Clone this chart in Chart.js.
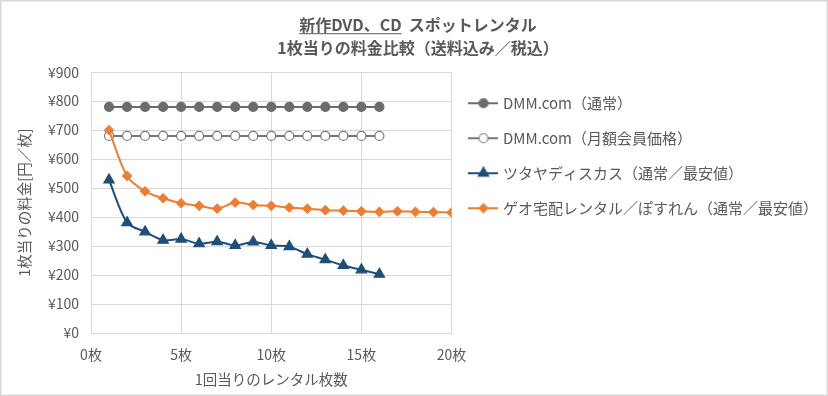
<!DOCTYPE html>
<html lang="ja">
<head>
<meta charset="utf-8">
<title>新作DVD、CD スポットレンタル</title>
<script src="https://cdn.jsdelivr.net/npm/chart.js@4.4.1/dist/chart.umd.min.js"></script>
<style>
  html, body { margin: 0; padding: 0; background: #fff; }
  canvas { display: block; }
</style>
</head>
<body>
<canvas id="chart" width="828" height="396"></canvas>
<script>
const FONT = "'Noto Sans CJK JP', 'Noto Sans', sans-serif"
Chart.defaults.font.family = FONT
Chart.defaults.color = '#595959'

// data
const counts = [1, 2, 3, 4, 5, 6, 7, 8, 9, 10, 11, 12, 13, 14, 15, 16, 17, 18, 19, 20]
const seriesNames = [
  'DMM.com（通常）',
  'DMM.com（月額会員価格）',
  'ツタヤディスカス（通常／最安値）',
  'ゲオ宅配レンタル／ぽすれん（通常／最安値）'
]
const dmmNormal = [780, 780, 780, 780, 780, 780, 780, 780, 780, 780, 780, 780, 780, 780, 780, 780]
const dmmMember = [680, 680, 680, 680, 680, 680, 680, 680, 680, 680, 680, 680, 680, 680, 680, 680]
const tsutaya = [528, 381, 349, 320, 324, 308, 315, 302, 314, 302, 298, 272, 253, 233, 218, 203]
const geo = [700, 542, 489, 465, 448, 439, 429, 450, 442, 439, 433, 429, 424, 422, 420, 418, 420, 418, 417, 416]
const yTicks = [0, 100, 200, 300, 400, 500, 600, 700, 800, 900]
const xTicks = [0, 5, 10, 15, 20]

const toPoints = (values) => values.map((v, i) => ({ x: counts[i], y: v }))

const styles = [
  { color: '#6f6b6b', fill: '#6f6b6b', pointStyle: 'circle', radius: 4.5, tension: 0 },
  { color: '#7a7676', fill: '#ffffff', pointStyle: 'circle', radius: 4.5, tension: 0 },
  { color: '#1f4e79', fill: '#1f4e79', pointStyle: 'triangle', radius: 6, tension: 0.3 },
  { color: '#ed7d31', fill: '#ed7d31', pointStyle: 'rectRot', radius: 4.5, tension: 0.3 }
]
const values = [dmmNormal, dmmMember, tsutaya, geo]

// legend icons: short line with the marker in the middle
const icons = styles.map(s => {
  const c = document.createElement('canvas')
  c.width = 30
  c.height = 14
  const ctx = c.getContext('2d')
  ctx.strokeStyle = s.color
  ctx.lineWidth = 2
  ctx.beginPath()
  ctx.moveTo(0, 7)
  ctx.lineTo(30, 7)
  ctx.stroke()
  ctx.fillStyle = s.fill
  ctx.lineWidth = 1.2
  Chart.helpers.drawPoint(ctx, { pointStyle: s.pointStyle, radius: s.radius, rotation: 0, borderWidth: 1.2 }, 15, 7)
  return c
})

const frame = {
  id: 'frame',
  beforeDraw(chart) {
    const ctx = chart.ctx
    ctx.save()
    ctx.fillStyle = '#ffffff'
    ctx.fillRect(0, 0, chart.width, chart.height)
    ctx.strokeStyle = '#d9d9d9'
    ctx.lineWidth = 1.5
    ctx.strokeRect(0.75, 0.75, chart.width - 1.5, chart.height - 1.5)
    ctx.restore()
  },
  afterDraw(chart) {
    // underline for the first part of the title
    const t = chart.titleBlock
    const opts = chart.options.plugins.title
    const font = Chart.helpers.toFont(opts.font)
    const ctx = chart.ctx
    ctx.save()
    ctx.font = font.string
    const line = opts.text[0]
    const w = ctx.measureText(line).width
    const x0 = (t.left + t.right) / 2 - w / 2
    const y = t.top + opts.padding.top + font.lineHeight / 2 + 8
    const uw = ctx.measureText('新作DVD、CD').width
    ctx.strokeStyle = '#595959'
    ctx.lineWidth = 1
    ctx.beginPath()
    ctx.moveTo(x0, y + 0.5)
    ctx.lineTo(x0 + uw, y + 0.5)
    ctx.stroke()
    ctx.restore()
  }
}

new Chart(document.getElementById('chart'), {
  type: 'line',
  data: {
    datasets: values.map((v, i) => ({
      label: seriesNames[i],
      data: toPoints(v),
      borderColor: styles[i].color,
      backgroundColor: styles[i].fill,
      borderWidth: 2,
      pointStyle: styles[i].pointStyle,
      pointRadius: styles[i].radius,
      pointHoverRadius: styles[i].radius,
      pointBorderColor: styles[i].color,
      pointBackgroundColor: styles[i].fill,
      pointBorderWidth: 1.2,
      tension: styles[i].tension,
      fill: false,
      order: 4 - i
    }))
  },
  options: {
    responsive: false,
    animation: false,
    devicePixelRatio: 1,
    layout: {
      padding: { top: 4, right: 0, bottom: 0, left: 8 }
    },
    plugins: {
      title: {
        display: true,
        text: ['新作DVD、CD  スポットレンタル', '1枚当りの料金比較（送料込み／税込）'],
        color: '#595959',
        font: { size: 16, weight: '600', lineHeight: 1.4 },
        padding: { top: 10, bottom: 13.4 }
      },
      legend: {
        position: 'right',
        align: 'start',
        fullSize: false,
        maxWidth: 420,
        title: {
          display: true,
          text: ' ',
          font: { size: 2, lineHeight: 1 },
          padding: { top: 1.5, bottom: 0 }
        },
        labels: {
          usePointStyle: true,
          pointStyleWidth: 24,
          padding: 20,
          color: '#595959',
          font: { size: 15 },
          sort: (a, b) => a.datasetIndex - b.datasetIndex,
          generateLabels(chart) {
            const items = Chart.defaults.plugins.legend.labels.generateLabels(chart)
            return items.map(item => ({ ...item, pointStyle: icons[item.datasetIndex] }))
          }
        }
      },
      tooltip: { enabled: false }
    },
    scales: {
      x: {
        type: 'linear',
        min: xTicks[0],
        max: xTicks[xTicks.length - 1],
        afterFit(scale) { scale.height = 63 },
        afterBuildTicks(scale) { scale.ticks = xTicks.map(v => ({ value: v })) },
        ticks: {
          padding: 13,
          font: { size: 14 },
          color: '#595959',
          callback: (v) => v + '枚'
        },
        grid: { color: '#d9d9d9', drawTicks: false },
        border: { color: '#d9d9d9' },
        title: {
          display: true,
          text: '1回当りのレンタル枚数',
          color: '#595959',
          font: { size: 14.5 },
          padding: { top: 0, bottom: 8.3 }
        }
      },
      y: {
        min: yTicks[0],
        max: yTicks[yTicks.length - 1],
        afterFit(scale) { scale.width = 83 },
        afterBuildTicks(scale) { scale.ticks = yTicks.map(v => ({ value: v })) },
        ticks: {
          padding: 12,
          font: { size: 14 },
          color: '#595959',
          callback: (v) => '¥' + v
        },
        grid: { color: '#d9d9d9', drawTicks: false },
        border: { color: '#d9d9d9' },
        title: {
          display: true,
          text: '1枚当りの料金[円／枚]',
          color: '#595959',
          font: { size: 14.5 },
          padding: { top: 8, bottom: 0 }
        }
      }
    }
  },
  plugins: [frame]
})
</script>
</body>
</html>
